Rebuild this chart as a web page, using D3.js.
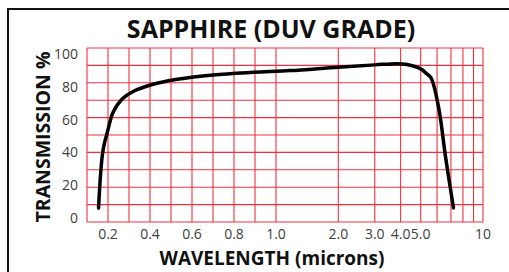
<!DOCTYPE html>
<html>
<head>
<meta charset="utf-8">
<script src="https://cdn.jsdelivr.net/npm/d3@7"></script>
<style>
  body { margin: 0; background: #fff; }
  text { font-family: "Open Sans", "Noto Sans", sans-serif; }
</style>
</head>
<body>
<div id="graphique"></div>
<script>
// Données
const longueurs = [0.155, 0.176, 0.2, 0.224, 0.27, 0.32, 0.41, 0.53, 0.7, 0.89, 1.17, 2.0, 3.0, 3.84, 4.3, 5.0, 5.3, 5.6, 6.1, 6.6, 7.2];
const transmission = [8, 41, 53, 63, 71, 75, 79, 82, 84.5, 86, 87, 89, 90.3, 91, 90.5, 88, 85.6, 83, 66, 37, 8];

const grilleX = [0.1, 0.2, 0.3, 0.4, 0.5, 0.6, 0.7, 0.8, 0.9, 1, 2, 3, 4, 5, 6, 7, 8, 9, 10];
const ticksX = [0.2, 0.4, 0.6, 0.8, 1, 2, 3, 4, 5, 10];
const etiquettesX = ["0.2", "0.4", "0.6", "0.8", "1.0", "2.0", "3.0", "4.0", "5.0", "10"];
const grilleY = [0, 10, 20, 30, 40, 50, 60, 70, 80, 90, 100];
const ticksY = [0, 20, 40, 60, 80, 100];

const largeur = 509, hauteur = 272;
const gauche = 87, droite = 483, haut = 48, bas = 222;

// Échelle hybride : linéaire de 0.1 à 1, logarithmique de 1 à 10
const xLin = d3.scaleLinear().domain([0.1, 1]).range([gauche, 276]);
const xLog = d3.scaleLog().domain([1, 10]).range([276, droite]);
const x = v => v <= 1 ? xLin(v) : xLog(v);
const y = d3.scaleLinear().domain([0, 100]).range([bas, haut]);
// les étiquettes de l'axe y sont un peu plus serrées que la grille
const yEtiq = d3.scaleLinear().domain([0, 100]).range([218, 54]);

const svg = d3.select("#graphique").append("svg")
  .attr("width", largeur)
  .attr("height", hauteur);

svg.append("rect").attr("width", largeur).attr("height", hauteur).attr("fill", "#fff");

// cadre noir (haut et gauche)
svg.append("path")
  .attr("d", "M8," + hauteur + " L8,9 L" + largeur + ",9")
  .attr("fill", "none")
  .attr("stroke", "#111")
  .attr("stroke-width", 2);

// grille rouge
svg.selectAll("line.gx").data(grilleX).enter().append("line")
  .attr("x1", d => x(d)).attr("x2", d => x(d))
  .attr("y1", haut).attr("y2", bas)
  .attr("stroke", "#f0303f").attr("stroke-width", 1.1);

svg.selectAll("line.gy").data(grilleY).enter().append("line")
  .attr("x1", gauche).attr("x2", droite)
  .attr("y1", d => y(d)).attr("y2", d => y(d))
  .attr("stroke", "#f0303f").attr("stroke-width", 1.1);

// étiquettes des axes
svg.selectAll("text.tx").data(ticksX).enter().append("text")
  .attr("x", d => x(d)).attr("y", 239)
  .attr("text-anchor", "middle")
  .attr("font-size", 14)
  .attr("fill", "#404040")
  .text((d, i) => etiquettesX[i]);

svg.selectAll("text.ty").data(ticksY).enter().append("text")
  .attr("x", 78).attr("y", d => yEtiq(d) + 5)
  .attr("text-anchor", "end")
  .attr("font-size", 14)
  .attr("fill", "#404040")
  .text(d => d);

// courbe
const ligne = d3.line()
  .x(d => x(d[0]))
  .y(d => y(d[1]))
  .curve(d3.curveCatmullRom.alpha(0.5));

svg.append("path")
  .datum(d3.zip(longueurs, transmission))
  .attr("d", ligne)
  .attr("fill", "none")
  .attr("stroke", "#000")
  .attr("stroke-width", 3.5)
  .attr("stroke-linecap", "round");

// titres
svg.append("text")
  .attr("x", 271).attr("y", 38)
  .attr("text-anchor", "middle")
  .attr("font-size", 25).attr("font-weight", "bold")
  .attr("fill", "#111")
  .text("SAPPHIRE (DUV GRADE)");

svg.append("text")
  .attr("x", 272).attr("y", 265)
  .attr("text-anchor", "middle")
  .attr("font-size", 19).attr("font-weight", "bold")
  .attr("fill", "#111")
  .text("WAVELENGTH (microns)");

svg.append("text")
  .attr("transform", "translate(50,137) rotate(-90)")
  .attr("text-anchor", "middle")
  .attr("font-size", 19.5).attr("font-weight", "bold")
  .attr("fill", "#111")
  .text("TRANSMISSION %");
</script>
</body>
</html>
